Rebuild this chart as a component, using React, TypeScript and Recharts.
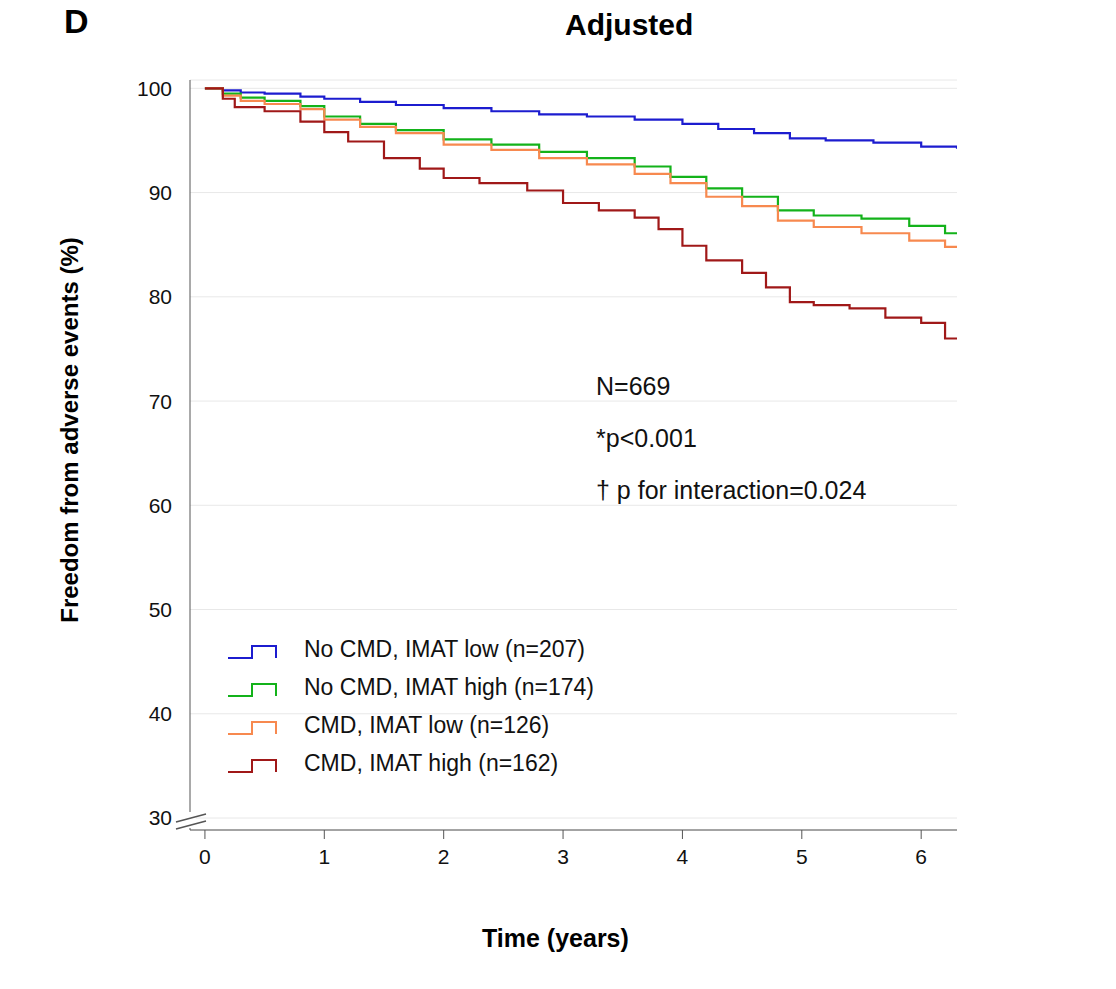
import React from "react";
import { LineChart, Line, XAxis, YAxis, CartesianGrid } from "recharts";

// time in years, freedom from adverse events (%)
const timeNoCmdLow = [0, 0.15, 0.3, 0.5, 0.8, 1, 1.3, 1.6, 2, 2.4, 2.8, 3.2, 3.6, 4, 4.3, 4.6, 4.9, 5.2, 5.6, 6, 6.3];
const noCmdLow = [100, 99.8, 99.6, 99.5, 99.2, 99.0, 98.7, 98.4, 98.1, 97.8, 97.5, 97.3, 97.0, 96.6, 96.1, 95.7, 95.2, 95.0, 94.8, 94.4, 94.2];

const timeNoCmdHigh = [0, 0.15, 0.3, 0.5, 0.8, 1, 1.3, 1.6, 2, 2.4, 2.8, 3.2, 3.6, 3.9, 4.2, 4.5, 4.8, 5.1, 5.5, 5.9, 6.2, 6.3];
const noCmdHigh = [100, 99.5, 99.1, 98.8, 98.3, 97.3, 96.6, 96.0, 95.1, 94.6, 93.9, 93.3, 92.5, 91.5, 90.4, 89.6, 88.3, 87.8, 87.5, 86.8, 86.1, 86.1];

const timeCmdLow = [0, 0.15, 0.3, 0.5, 0.8, 1, 1.3, 1.6, 2, 2.4, 2.8, 3.2, 3.6, 3.9, 4.2, 4.5, 4.8, 5.1, 5.5, 5.9, 6.2, 6.3];
const cmdLow = [100, 99.3, 98.8, 98.5, 98.0, 97.0, 96.3, 95.7, 94.6, 94.1, 93.3, 92.7, 91.8, 90.9, 89.6, 88.7, 87.3, 86.7, 86.1, 85.4, 84.8, 84.8];

const timeCmdHigh = [0, 0.15, 0.25, 0.5, 0.8, 1, 1.2, 1.5, 1.8, 2, 2.3, 2.7, 3, 3.3, 3.6, 3.8, 4, 4.2, 4.5, 4.7, 4.9, 5.1, 5.4, 5.7, 6, 6.2, 6.3];
const cmdHigh = [100, 99.0, 98.2, 97.8, 96.8, 95.8, 94.9, 93.3, 92.3, 91.4, 90.9, 90.2, 89.0, 88.3, 87.6, 86.5, 84.9, 83.5, 82.3, 80.9, 79.5, 79.2, 78.9, 78.0, 77.5, 76.0, 76.0];

const xTicks = [0, 1, 2, 3, 4, 5, 6];
const yTicks = [30, 40, 50, 60, 70, 80, 90, 100];

const seriesNames = [
  "No CMD, IMAT low (n=207)",
  "No CMD, IMAT high (n=174)",
  "CMD, IMAT low (n=126)",
  "CMD, IMAT high (n=162)",
];
const colors = ["#1c1ccf", "#13b21a", "#f7894f", "#a01818"];
const notes = ["N=669", "*p<0.001", "† p for interaction=0.024"];

const toPts = (t: number[], v: number[]) => t.map((x, i) => ({ x, y: v[i] }));
const series = [
  toPts(timeNoCmdLow, noCmdLow),
  toPts(timeNoCmdHigh, noCmdHigh),
  toPts(timeCmdLow, cmdLow),
  toPts(timeCmdHigh, cmdHigh),
];

const font = "'Liberation Sans', Arial, sans-serif";

export default function App() {
  return (
    <div style={{ position: "relative", width: 1116, height: 989, fontFamily: font, background: "#fff", margin: -8 }}>
      <LineChart width={1116} height={989} margin={{ top: 80, right: 159, bottom: 119, left: 0 }}>
        <CartesianGrid vertical={false} stroke="#e8e8e8" />
        <XAxis
          type="number"
          dataKey="x"
          domain={[-0.125, 6.3]}
          ticks={xTicks}
          allowDataOverflow
          height={40}
          stroke="#555"
          fontSize={21}
          tick={{ fill: "#111", fontSize: 21, fontFamily: font }}
          tickSize={9}
          tickMargin={10}
        />
        <YAxis
          type="number"
          dataKey="y"
          domain={[28.85, 100.8]}
          ticks={yTicks}
          allowDataOverflow
          stroke="#555"
          width={190}
          fontSize={21}
          tickLine={false}
          tick={{ fill: "#111", fontSize: 21, fontFamily: font }}
          tickMargin={12}
        />
        {series.map((d, i) => (
          <Line
            key={i}
            data={d}
            dataKey="y"
            type="stepAfter"
            stroke={colors[i]}
            strokeWidth={2.2}
            dot={false}
            isAnimationActive={false}
          />
        ))}
      </LineChart>
      <div style={{ position: "absolute", left: 64, top: 2, fontSize: 34, fontWeight: "bold" }}>D</div>
      <div style={{ position: "absolute", left: 565, top: 8, fontSize: 30, fontWeight: "bold" }}>Adjusted</div>
      <div
        style={{
          position: "absolute", left: 70, top: 430, fontSize: 24, fontWeight: "bold", whiteSpace: "nowrap",
          transform: "translate(-50%, -50%) rotate(-90deg)",
        }}
      >
        Freedom from adverse events (%)
      </div>
      <div style={{ position: "absolute", left: 482, top: 924, fontSize: 25, fontWeight: "bold" }}>Time (years)</div>
      {notes.map((n, i) => (
        <div key={n} style={{ position: "absolute", left: 596, top: 372 + i * 52, fontSize: 25, color: "#111" }}>{n}</div>
      ))}
      {seriesNames.map((n, i) => (
        <div key={n} style={{ position: "absolute", left: 228, top: 636 + i * 38, display: "flex", alignItems: "center" }}>
          <svg width={50} height={24}>
            <path d="M0 20 H24 V8 H48 V20" fill="none" stroke={colors[i]} strokeWidth={2} />
          </svg>
          <span style={{ fontSize: 23, marginLeft: 26, color: "#111" }}>{n}</span>
        </div>
      ))}
      <svg style={{ position: "absolute", left: 172, top: 806 }} width={40} height={30}>
        <rect x={16} y={6} width={8} height={16} fill="#fff" />
        <path d="M4 16 L34 8 M4 23 L34 15" stroke="#555" strokeWidth={1.5} />
      </svg>
    </div>
  );
}
